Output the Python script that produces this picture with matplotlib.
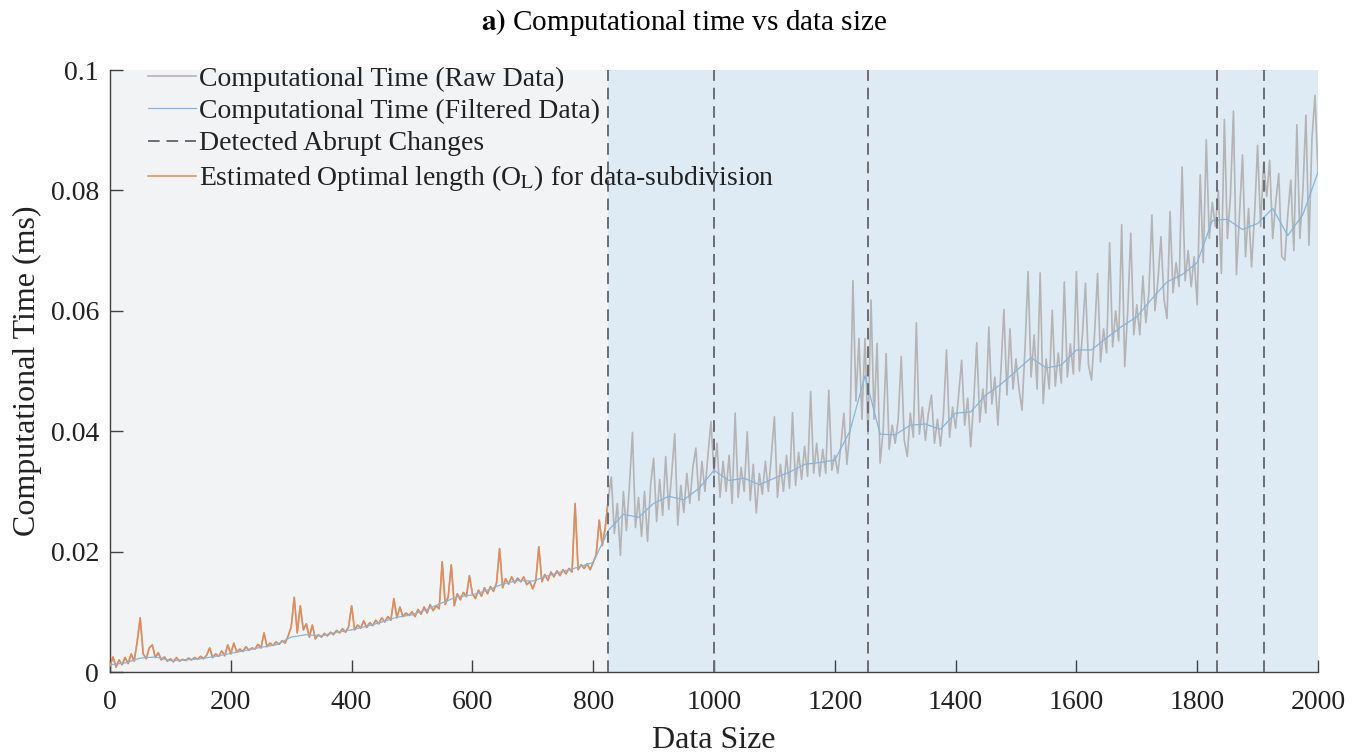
import numpy as np
import matplotlib
matplotlib.use("Agg")
import matplotlib.pyplot as plt

plt.rcParams['font.family'] = ['Liberation Serif', 'DejaVu Serif']
plt.rcParams['mathtext.fontset'] = 'stix'

# ---------------- data ----------------
raw_step = 5  # data size spacing of the raw samples
raw_time = [
    # 0 - 95
    0.0010, 0.0025, 0.0008, 0.0020, 0.0012, 0.0024, 0.0014, 0.0030, 0.0018, 0.0050,
    0.0090, 0.0030, 0.0022, 0.0040, 0.0045, 0.0024, 0.0032, 0.0020, 0.0025, 0.0018,
    # 100 - 195
    0.0022, 0.0017, 0.0024, 0.0018, 0.0021, 0.0019, 0.0023, 0.0020, 0.0024, 0.0021,
    0.0026, 0.0022, 0.0028, 0.0040, 0.0024, 0.0030, 0.0026, 0.0035, 0.0027, 0.0045,
    # 200 - 295
    0.0030, 0.0048, 0.0033, 0.0038, 0.0034, 0.0042, 0.0036, 0.0040, 0.0038, 0.0046,
    0.0040, 0.0065, 0.0042, 0.0048, 0.0044, 0.0050, 0.0046, 0.0052, 0.0048, 0.0060,
    # 300 - 395
    0.0075, 0.0124, 0.0065, 0.0110, 0.0070, 0.0080, 0.0058, 0.0078, 0.0055, 0.0062,
    0.0058, 0.0064, 0.0060, 0.0066, 0.0062, 0.0069, 0.0065, 0.0072, 0.0066, 0.0075,
    # 400 - 495
    0.0110, 0.0070, 0.0078, 0.0073, 0.0085, 0.0074, 0.0082, 0.0077, 0.0086, 0.0080,
    0.0090, 0.0083, 0.0092, 0.0086, 0.0122, 0.0090, 0.0108, 0.0092, 0.0098, 0.0094,
    # 500 - 595
    0.0100, 0.0092, 0.0104, 0.0096, 0.0108, 0.0098, 0.0112, 0.0102, 0.0110, 0.0105,
    0.0183, 0.0112, 0.0125, 0.0178, 0.0110, 0.0130, 0.0120, 0.0132, 0.0125, 0.0160,
    # 600 - 695
    0.0130, 0.0122, 0.0136, 0.0126, 0.0140, 0.0130, 0.0142, 0.0134, 0.0148, 0.0205,
    0.0140, 0.0155, 0.0146, 0.0158, 0.0148, 0.0156, 0.0150, 0.0158, 0.0145, 0.0150,
    # 700 - 795
    0.0138, 0.0152, 0.0208, 0.0150, 0.0162, 0.0152, 0.0166, 0.0158, 0.0168, 0.0160,
    0.0170, 0.0163, 0.0172, 0.0166, 0.0280, 0.0170, 0.0178, 0.0172, 0.0180, 0.0170,
    # 800 - 895
    0.0182, 0.0195, 0.0252, 0.0210, 0.0240, 0.0288, 0.0324, 0.0230, 0.0280, 0.0194,
    0.0300, 0.0235, 0.0310, 0.0398, 0.0240, 0.0290, 0.0225, 0.0300, 0.0217, 0.0310,
    # 900 - 995
    0.0355, 0.0250, 0.0320, 0.0260, 0.0358, 0.0270, 0.0330, 0.0396, 0.0244, 0.0310,
    0.0265, 0.0330, 0.0280, 0.0340, 0.0372, 0.0285, 0.0350, 0.0300, 0.0360, 0.0416,
    # 1000 - 1095
    0.0330, 0.0380, 0.0290, 0.0350, 0.0300, 0.0360, 0.0280, 0.0430, 0.0290, 0.0340,
    0.0300, 0.0399, 0.0285, 0.0345, 0.0264, 0.0330, 0.0295, 0.0350, 0.0300, 0.0360,
    # 1100 - 1195
    0.0424, 0.0290, 0.0345, 0.0300, 0.0360, 0.0305, 0.0431, 0.0310, 0.0365, 0.0320,
    0.0375, 0.0325, 0.0466, 0.0330, 0.0380, 0.0325, 0.0370, 0.0330, 0.0468, 0.0335,
    # 1200 - 1295
    0.0360, 0.0330, 0.0375, 0.0430, 0.0345, 0.0400, 0.0650, 0.0450, 0.0554, 0.0420,
    0.0554, 0.0395, 0.0618, 0.0420, 0.0546, 0.0347, 0.0400, 0.0529, 0.0370, 0.0410,
    # 1300 - 1395
    0.0380, 0.0420, 0.0524, 0.0385, 0.0358, 0.0430, 0.0390, 0.0580, 0.0395, 0.0440,
    0.0385, 0.0430, 0.0460, 0.0380, 0.0420, 0.0375, 0.0430, 0.0535, 0.0390, 0.0440,
    # 1400 - 1495
    0.0405, 0.0460, 0.0518, 0.0410, 0.0455, 0.0374, 0.0450, 0.0547, 0.0415, 0.0470,
    0.0430, 0.0573, 0.0445, 0.0490, 0.0410, 0.0500, 0.0602, 0.0460, 0.0570, 0.0470,
    # 1500 - 1595
    0.0520, 0.0470, 0.0435, 0.0540, 0.0665, 0.0490, 0.0560, 0.0470, 0.0663, 0.0446,
    0.0520, 0.0470, 0.0601, 0.0475, 0.0530, 0.0480, 0.0648, 0.0490, 0.0545, 0.0495,
    # 1600 - 1695
    0.0665, 0.0500, 0.0560, 0.0646, 0.0510, 0.0485, 0.0560, 0.0662, 0.0515, 0.0570,
    0.0530, 0.0713, 0.0540, 0.0600, 0.0550, 0.0743, 0.0507, 0.0600, 0.0729, 0.0560,
    # 1700 - 1795
    0.0610, 0.0560, 0.0658, 0.0580, 0.0630, 0.0759, 0.0600, 0.0650, 0.0723, 0.0620,
    0.0587, 0.0765, 0.0630, 0.0680, 0.0640, 0.0839, 0.0650, 0.0700, 0.0640, 0.0690,
    # 1800 - 1895
    0.0610, 0.0826, 0.0680, 0.0884, 0.0720, 0.0780, 0.0740, 0.0800, 0.0662, 0.0918,
    0.0720, 0.0790, 0.0932, 0.0660, 0.0760, 0.0859, 0.0690, 0.0770, 0.0673, 0.0760,
    # 1900 - 1995
    0.0875, 0.0740, 0.0845, 0.0790, 0.0850, 0.0720, 0.0780, 0.0828, 0.0690, 0.0684,
    0.0760, 0.0817, 0.0700, 0.0909, 0.0720, 0.0800, 0.0925, 0.0709, 0.0886, 0.0958,
    # 2000
    0.0830,
]

filt_step = 25
filtered_time = [
    0.0012, 0.0015, 0.0023, 0.0025, 0.0019, 0.0020, 0.0022, 0.0026,   # 0-175
    0.0031, 0.0036, 0.0041, 0.0045, 0.0058, 0.0062, 0.0060, 0.0066,   # 200-375
    0.0070, 0.0076, 0.0083, 0.0091, 0.0095, 0.0104, 0.0115, 0.0125,   # 400-575
    0.0128, 0.0136, 0.0146, 0.0152, 0.0151, 0.0160, 0.0167, 0.0174,   # 600-775
    0.0182, 0.0235, 0.0262, 0.0257, 0.0280, 0.0292, 0.0286, 0.0305,   # 800-975
    0.0335, 0.0318, 0.0322, 0.0311, 0.0322, 0.0332, 0.0345, 0.0348,   # 1000-1175
    0.0352, 0.0400, 0.0492, 0.0395, 0.0394, 0.0410, 0.0412, 0.0403,   # 1200-1375
    0.0430, 0.0432, 0.0460, 0.0478, 0.0500, 0.0522, 0.0505, 0.0510,   # 1400-1575
    0.0535, 0.0535, 0.0555, 0.0574, 0.0590, 0.0620, 0.0648, 0.0660,   # 1600-1775
    0.0680, 0.0750, 0.0752, 0.0735, 0.0745, 0.0770, 0.0725, 0.0760,   # 1800-1975
    0.0830,                                                           # 2000
]

optimal_length_end = 825                         # end of the estimated optimal-length segment
abrupt_changes = [825, 1000, 1255, 1832, 1910]   # detected change points

x_ticks = [0, 200, 400, 600, 800, 1000, 1200, 1400, 1600, 1800, 2000]
y_ticks = [0, 0.02, 0.04, 0.06, 0.08, 0.1]
y_tick_labels = ['0', '0.02', '0.04', '0.06', '0.08', '0.1']

# ---------------- plot ----------------
raw_x = np.arange(len(raw_time)) * raw_step
raw_y = np.array(raw_time)
filt_x = np.arange(len(filtered_time)) * filt_step
filt_y = np.array(filtered_time)

fig = plt.figure(figsize=(13.68, 7.56), dpi=100)
ax = fig.add_axes([110/1368, 1 - 672/756, 1208/1368, 602/756])

ax.axvspan(0, optimal_length_end, color='#f2f3f5', zorder=0, lw=0)
ax.axvspan(optimal_length_end, 2000, color='#deebf5', zorder=0, lw=0)

gray_c = '#b5b3b3'
orange_c = '#e58a52'
blue_c = '#86b4df'
dash_c = '#6b6d72'

ax.plot(raw_x, raw_y, color=gray_c, lw=1.2, zorder=2,
        label='Computational Time (Raw Data)')
ax.plot(filt_x, filt_y, color=blue_c, lw=0.9, zorder=4,
        label='Computational Time (Filtered Data)')
for i, cx in enumerate(abrupt_changes):
    ax.axvline(cx, color=dash_c, lw=1.4, ls=(0, (6, 3.5)), zorder=5,
               label='Detected Abrupt Changes' if i == 0 else None)
mask = raw_x <= optimal_length_end
ax.plot(raw_x[mask], raw_y[mask], color=orange_c, lw=1.1, zorder=3,
        label=r'Estimated Optimal length (O$_{\mathrm{L}}$) for data-subdivision')

ax.set_xlim(0, 2000)
ax.set_ylim(0, 0.1)
ax.set_xticks(x_ticks)
ax.set_yticks(y_ticks)
ax.set_yticklabels(y_tick_labels)
ax.tick_params(direction='in', length=9, width=1.0, color='#404040',
               labelsize=20, labelcolor='#222222')
ax.tick_params(axis='x', pad=13)
ax.tick_params(axis='y', pad=8)
for s in ['top', 'right']:
    ax.spines[s].set_visible(False)
for s in ['left', 'bottom']:
    ax.spines[s].set_color('#404040')
    ax.spines[s].set_linewidth(1.0)

ax.set_xlabel('Data Size', fontsize=23, labelpad=8, color='#222222')
ax.set_ylabel('Computational Time (ms)', fontsize=23, labelpad=6, color='#222222')

fig.text(0.5, 1 - 23/756, r'$\mathbf{a)}$ Computational time vs data size',
         ha='center', va='center', fontsize=21)

leg = ax.legend(loc='upper left', frameon=False, fontsize=20,
                handlelength=1.75, handletextpad=0.1, labelspacing=0.25,
                borderaxespad=0.0, bbox_to_anchor=(0.022, 1.025))
for t in leg.get_texts():
    t.set_color('#222222')

fig.savefig('out.png', dpi=100)
